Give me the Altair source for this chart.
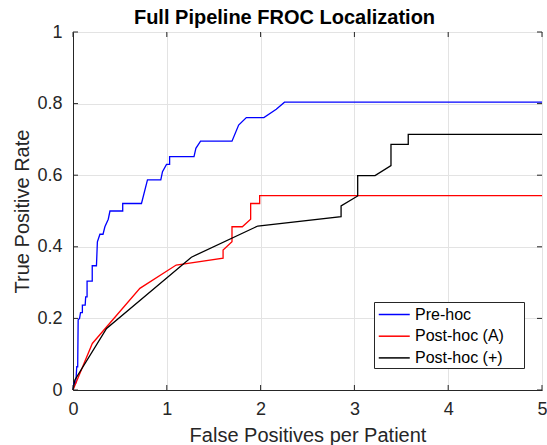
import altair as alt
import pandas as pd

series = ["Pre-hoc", "Post-hoc (A)", "Post-hoc (+)"]
colors = ["#0000ff", "#ff0000", "#000000"]

pre_fp = [0, 0.01, 0.03, 0.04, 0.05, 0.055, 0.07, 0.08, 0.10, 0.10, 0.13, 0.135, 0.15, 0.15,
          0.205, 0.205, 0.25, 0.26, 0.287, 0.32, 0.34, 0.376, 0.394, 0.53, 0.53, 0.73, 0.794,
          0.936, 0.954, 0.997, 1.03, 1.03, 1.29, 1.31, 1.36, 1.695, 1.766, 1.848, 2.035, 2.167,
          2.255, 5.0]
pre_tpr = [0, 0.02, 0.02, 0.065, 0.065, 0.196, 0.2, 0.216, 0.216, 0.237, 0.237, 0.26, 0.26, 0.304,
           0.304, 0.347, 0.347, 0.414, 0.435, 0.435, 0.456, 0.477, 0.5, 0.5, 0.521, 0.521, 0.587,
           0.587, 0.61, 0.63, 0.63, 0.652, 0.652, 0.675, 0.695, 0.695, 0.74, 0.761, 0.761, 0.784,
           0.804, 0.804]

posta_fp = [0, 0.206, 0.713, 1.10, 1.6, 1.6, 1.695, 1.695, 1.805, 1.894, 1.894, 1.99, 1.99, 5.0]
posta_tpr = [0, 0.13, 0.284, 0.349, 0.368, 0.391, 0.414, 0.456, 0.456, 0.477, 0.521, 0.521, 0.543, 0.543]

postp_fp = [0, 0.02, 0.358, 1.262, 1.97, 2.858, 2.858, 3.035, 3.035, 3.22, 3.39, 3.39, 3.574, 3.574, 5.0]
postp_tpr = [0, 0.028, 0.172, 0.371, 0.458, 0.484, 0.514, 0.542, 0.599, 0.599, 0.627, 0.686, 0.686, 0.714, 0.714]

x_ticks = [0, 1, 2, 3, 4, 5]
y_ticks = [0, 0.2, 0.4, 0.6, 0.8, 1.0]

rows = []
for name, xs, ys in zip(series, [pre_fp, posta_fp, postp_fp], [pre_tpr, posta_tpr, postp_tpr]):
    for i, (a, b) in enumerate(zip(xs, ys)):
        rows.append({"series": name, "fp": a, "tpr": b, "i": i})
df = pd.DataFrame(rows)

FONT = "Liberation Sans"
TXT = "#262626"
W, H = 469, 358

xscale = alt.Scale(domain=[0, 5], nice=False, zero=False)
yscale = alt.Scale(domain=[0, 1], nice=False, zero=False)
xaxis = alt.Axis(values=x_ticks, format="~g", title="False Positives per Patient",
                 labelPadding=10, labelFlush=False, titleY=51, titleBaseline="alphabetic")
yaxis = alt.Axis(values=y_ticks, format="~g", title="True Positive Rate",
                 labelPadding=11, labelFlush=False, titleX=-45, titleBaseline="alphabetic")

lines = alt.Chart(df).mark_line(strokeWidth=1.3).encode(
    x=alt.X("fp:Q", scale=xscale, axis=xaxis),
    y=alt.Y("tpr:Q", scale=yscale, axis=yaxis),
    color=alt.Color("series:N", scale=alt.Scale(domain=series, range=colors),
                    legend=alt.Legend(orient="none", legendX=301, legendY=270, title=None,
                                      symbolType="M-1,0H3", symbolSize=240.25,
                                      symbolStrokeWidth=1.5,
                                      labelFontSize=16, labelFont=FONT, labelColor="#000000",
                                      strokeColor="transparent", fillColor="transparent",
                                      padding=4, rowPadding=4.7, labelOffset=20,
                                      cornerRadius=0)),
    order=alt.Order("i:Q"),
)

# white legend frame drawn under the legend entries
frame = alt.Chart(pd.DataFrame({"k": [0]})).mark_rect(
    fill="white", stroke=TXT, strokeWidth=1
).encode(x=alt.value(301.5), x2=alt.value(451.5), y=alt.value(270.5), y2=alt.value(336.5))

xt = pd.DataFrame({"v": x_ticks})
yt = pd.DataFrame({"v": y_ticks})
bt = alt.Chart(xt).mark_rule(color=TXT, strokeWidth=1).encode(
    x=alt.X("v:Q", scale=xscale, axis=xaxis), y=alt.value(H), y2=alt.value(H - 5))
tt = alt.Chart(xt).mark_rule(color=TXT, strokeWidth=1).encode(
    x=alt.X("v:Q", scale=xscale, axis=xaxis), y=alt.value(0), y2=alt.value(5))
lt = alt.Chart(yt).mark_rule(color=TXT, strokeWidth=1).encode(
    y=alt.Y("v:Q", scale=yscale, axis=yaxis), x=alt.value(0), x2=alt.value(5))
rt = alt.Chart(yt).mark_rule(color=TXT, strokeWidth=1).encode(
    y=alt.Y("v:Q", scale=yscale, axis=yaxis), x=alt.value(W), x2=alt.value(W - 5))

chart = alt.layer(lines, bt, tt, lt, rt, frame).properties(
    width=W, height=H,
    autosize=alt.AutoSizeParams(type="none"),
    padding={"left": 73, "top": 32, "right": 5, "bottom": 55},
    title=alt.TitleParams("Full Pipeline FROC Localization", fontSize=20, fontWeight="bold",
                          font=FONT, color="#000000", offset=-5, anchor="middle", dx=-23),
).configure_view(stroke=TXT, strokeWidth=1).configure_axis(
    grid=True, gridColor="#e3e3e3", gridWidth=1, domainColor=TXT, domainWidth=1,
    tickSize=0, labelFont=FONT, labelFontSize=18, labelColor=TXT,
    titleFont=FONT, titleFontSize=20, titleFontWeight="normal", titleColor=TXT,
)

chart.save("out.html", embed_options={"renderer": "svg", "actions": False})
